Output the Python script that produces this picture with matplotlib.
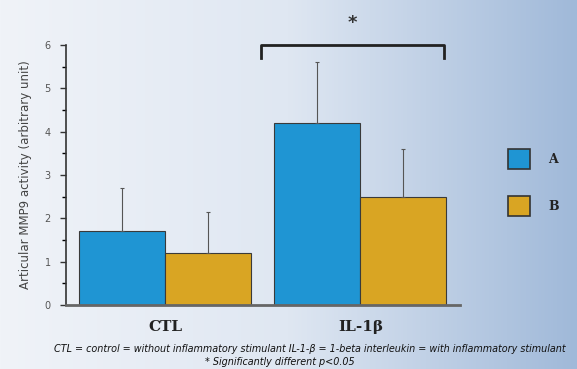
import matplotlib.pyplot as plt
import numpy as np
from matplotlib.patches import Rectangle
from matplotlib.colors import LinearSegmentedColormap

# data
groups = ['CTL', 'IL-1β']
series = ['A', 'B']
values_a = [1.7, 4.2]
values_b = [1.2, 2.5]
err_a = [1.0, 1.4]
err_b = [0.95, 1.1]
colors = ['#1f95d3', '#d9a523']

fig = plt.figure(figsize=(5.77, 3.69), dpi=100)

# background gradient
bg = fig.add_axes([0, 0, 1, 1], zorder=-10)
grad = np.linspace(0, 1, 256).reshape(1, -1)
cmap = LinearSegmentedColormap.from_list('bg', ['#f0f3f8', '#dfe7f2', '#a0b9d9'])
bg.imshow(grad, aspect='auto', cmap=cmap, extent=[0, 1, 0, 1])
bg.set_axis_off()

ax = fig.add_axes([0.1144, 0.1734, 0.797 - 0.1144, 0.878 - 0.1734])
ax.patch.set_alpha(0)

x = np.arange(len(groups))
w = 0.44
ax.bar(x - w / 2, values_a, w, color=colors[0], edgecolor='#3a3a3a', linewidth=0.8)
ax.bar(x + w / 2, values_b, w, color=colors[1], edgecolor='#3a3a3a', linewidth=0.8)
ax.errorbar(x - w / 2, values_a, yerr=[[0, 0], err_a], fmt='none', ecolor='#555555',
            elinewidth=0.8, capsize=1.5, capthick=0.8)
ax.errorbar(x + w / 2, values_b, yerr=[[0, 0], err_b], fmt='none', ecolor='#555555',
            elinewidth=0.8, capsize=1.5, capthick=0.8)

ax.set_xlim(-0.508, 1.51)
ax.set_ylim(0, 6)
ax.set_yticks(range(7))
ax.set_yticks(np.arange(0.5, 6, 1), minor=True)
ax.tick_params(axis='y', direction='out', length=4, width=1, labelsize=7, colors='#333333',
               labelcolor='#555555', pad=7)
ax.tick_params(axis='y', which='minor', length=3, width=1)
ax.set_xticks(x)
ax.set_xticklabels(groups, family='DejaVu Serif', fontweight='bold', fontsize=11, color='#222222')
ax.tick_params(axis='x', length=0, pad=11)
for s in ['top', 'right']:
    ax.spines[s].set_visible(False)
ax.spines['left'].set_color('#333333')
ax.spines['left'].set_linewidth(1.2)
ax.spines['bottom'].set_color('#666666')
ax.spines['bottom'].set_linewidth(2)

ax.set_ylabel('Articular MMP9 activity (arbitrary unit)', fontsize=8.5, color='#444444', labelpad=9)

# significance bracket
bx0, bx1, by = 0.49, 1.43, 6.0
ax.plot([bx0, bx0, bx1, bx1], [by - 0.3, by, by, by - 0.3], color='#222222', lw=2, clip_on=False)
ax.text((bx0 + bx1) / 2, 6.5, '*', ha='center', va='center', fontsize=13, fontweight='bold',
        color='#333333', clip_on=False)

# legend
for i, (lab, c) in enumerate(zip(series, colors)):
    yc = 0.568 - i * 0.127
    fig.patches.append(Rectangle((0.880, yc - 0.027), 0.038, 0.054, transform=fig.transFigure,
                                 facecolor=c, edgecolor='#333333', linewidth=1.2))
    fig.text(0.950, yc, lab, family='DejaVu Serif', fontweight='bold', fontsize=9,
             color='#222222', va='center', ha='left')

# caption
fig.text(0.537, 0.055, 'CTL = control = without inflammatory stimulant IL-1-β = 1-beta interleukin = with inflammatory stimulant',
         ha='center', va='center', fontsize=6.9, style='italic', color='#111111')
fig.text(0.355, 0.018, '* Significantly different p<0.05', ha='left', va='center',
         fontsize=6.9, style='italic', color='#111111')

fig.savefig('out.png', dpi=100)
